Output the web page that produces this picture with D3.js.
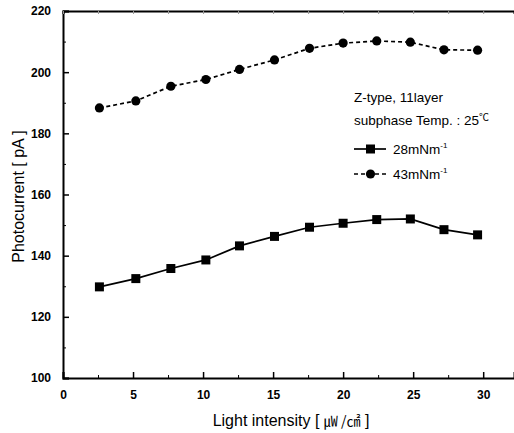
<html>
<head>
<meta charset="utf-8">
<title>Photocurrent vs light intensity</title>
<style>
  body { margin: 0; background: #fff; }
  svg text { font-family: "Liberation Sans", Arial, sans-serif; fill: #000; }
  .tick text { font-size: 12px; font-weight: bold; }
</style>
<script src="https://d3js.org/d3.v7.min.js"></script>
</head>
<body>
<svg width="514" height="433"></svg>
<script>
// light intensity (uW/cm2)
var intensity = [2.6, 5.2, 7.7, 10.2, 12.6, 15.1, 17.6, 20.0, 22.4, 24.8, 27.2, 29.6];
// photocurrent (pA)
var s28 = [129.8, 132.5, 135.8, 138.6, 143.2, 146.3, 149.3, 150.6, 151.8, 152.0, 148.5, 146.8];
var s43 = [188.3, 190.6, 195.4, 197.6, 200.9, 204.0, 207.8, 209.5, 210.2, 209.8, 207.3, 207.2];
var seriesNames = ["28mNm", "43mNm"];
var xTicks = [0, 5, 10, 15, 20, 25, 30];
var yTicks = [100, 120, 140, 160, 180, 200, 220];
var legendNote = ["Z-type, 11layer", "subphase Temp. : 25"];

var svg = d3.select("svg"),
    margin = {top: 11, right: 0, bottom: 55, left: 63},
    W = +svg.attr("width"), H = +svg.attr("height");

var x = d3.scaleLinear().domain([0, 32.2]).range([margin.left, W - margin.right]);
var y = d3.scaleLinear().domain([100, 220]).range([H - margin.bottom, margin.top]);

var minorX = d3.range(0, 32.5, 2.5).filter(d => d % 5 !== 0);
var minorY = d3.range(110, 220, 20);

// minor ticks first so major ones sit on top
svg.append("g").attr("transform", `translate(0,${y(100)})`)
  .call(d3.axisBottom(x).tickValues(minorX).tickSize(-3).tickFormat(""))
  .call(g => g.select(".domain").remove());
svg.append("g").attr("transform", `translate(${x(0)},0)`)
  .call(d3.axisLeft(y).tickValues(minorY).tickSize(-3).tickFormat(""))
  .call(g => g.select(".domain").remove());

// bottom axis
var xa = svg.append("g").attr("transform", `translate(0,${y(100)})`)
  .call(d3.axisBottom(x).tickValues(xTicks).tickSize(-6).tickPadding(12));
xa.select(".domain").attr("stroke-width", 2);
xa.selectAll(".tick line").attr("stroke-width", 1.5);

// left axis
var ya = svg.append("g").attr("transform", `translate(${x(0)},0)`)
  .call(d3.axisLeft(y).tickValues(yTicks).tickSize(-6).tickPadding(12));
ya.select(".domain").attr("stroke-width", 2);
ya.selectAll(".tick line").attr("stroke-width", 1.5);

// top frame with faint ticks
var ta = svg.append("g").attr("transform", `translate(0,${y(220)})`)
  .call(d3.axisTop(x).tickValues(d3.range(0, 32.5, 2.5)).tickSize(-3).tickFormat(""));
ta.select(".domain").attr("stroke-width", 2);
ta.selectAll(".tick line").attr("stroke", "#999");

// axis titles
svg.append("text")
  .attr("transform", `translate(18,${(y(100) + y(220)) / 2 + 2}) rotate(-90)`)
  .attr("text-anchor", "middle").attr("dy", "0.35em")
  .style("font-size", "16px")
  .text("Photocurrent [ pA ]");

svg.append("text")
  .attr("x", 291).attr("y", 426)
  .attr("text-anchor", "middle")
  .style("font-size", "16px")
  .text("Light intensity [ ")
  .append("tspan").style("font-family", "'Noto Sans CJK KR'").style("font-size", "14px").text("㎼ /㎠")
  .append("tspan").style("font-family", "'Liberation Sans'").style("font-size", "16px").text(" ]");

var line = d3.line().x((d, i) => x(intensity[i])).y(d => y(d));

// 43 mN/m dashed with circles
svg.append("path").datum(s43)
  .attr("d", line).attr("fill", "none").attr("stroke", "#000")
  .attr("stroke-width", 1.7).attr("stroke-dasharray", "4,3");
svg.selectAll(".c43").data(s43).enter().append("circle")
  .attr("cx", (d, i) => x(intensity[i])).attr("cy", d => y(d))
  .attr("r", 4.6).attr("fill", "#000");

// 28 mN/m solid with squares
svg.append("path").datum(s28)
  .attr("d", line).attr("fill", "none").attr("stroke", "#000")
  .attr("stroke-width", 1.7);
svg.selectAll(".s28").data(s28).enter().append("rect")
  .attr("x", (d, i) => x(intensity[i]) - 4.5).attr("y", d => y(d) - 4.5)
  .attr("width", 9).attr("height", 9).attr("fill", "#000");

// legend
var lg = svg.append("g").attr("transform", "translate(354,0)");
lg.append("text").attr("x", 0).attr("y", 102).style("font-size", "13.5px").text(legendNote[0]);
var t2 = lg.append("text").attr("x", 0).attr("y", 125).style("font-size", "13.5px").text(legendNote[1]);
t2.append("tspan").attr("dy", "-4").style("font-size", "10px").style("font-family", "'Noto Sans CJK KR'").text("℃");

var items = lg.selectAll(".item").data(seriesNames).enter().append("g")
  .attr("transform", (d, i) => `translate(0,${149 + i * 25})`);
items.append("line").attr("x1", 0).attr("x2", 32).attr("stroke", "#000")
  .attr("stroke-width", 1.7).attr("stroke-dasharray", (d, i) => i ? "4,3" : null);
items.each(function(d, i) {
  var g = d3.select(this);
  if (i === 0) g.append("rect").attr("x", 12).attr("y", -4.5).attr("width", 9).attr("height", 9);
  else g.append("circle").attr("cx", 16.5).attr("r", 4.6);
});
var lt = items.append("text").attr("x", 39).attr("y", 5).style("font-size", "13.5px").text(d => d);
lt.append("tspan").attr("dy", "-6").style("font-size", "8px").text("-1");
</script>
</body>
</html>
